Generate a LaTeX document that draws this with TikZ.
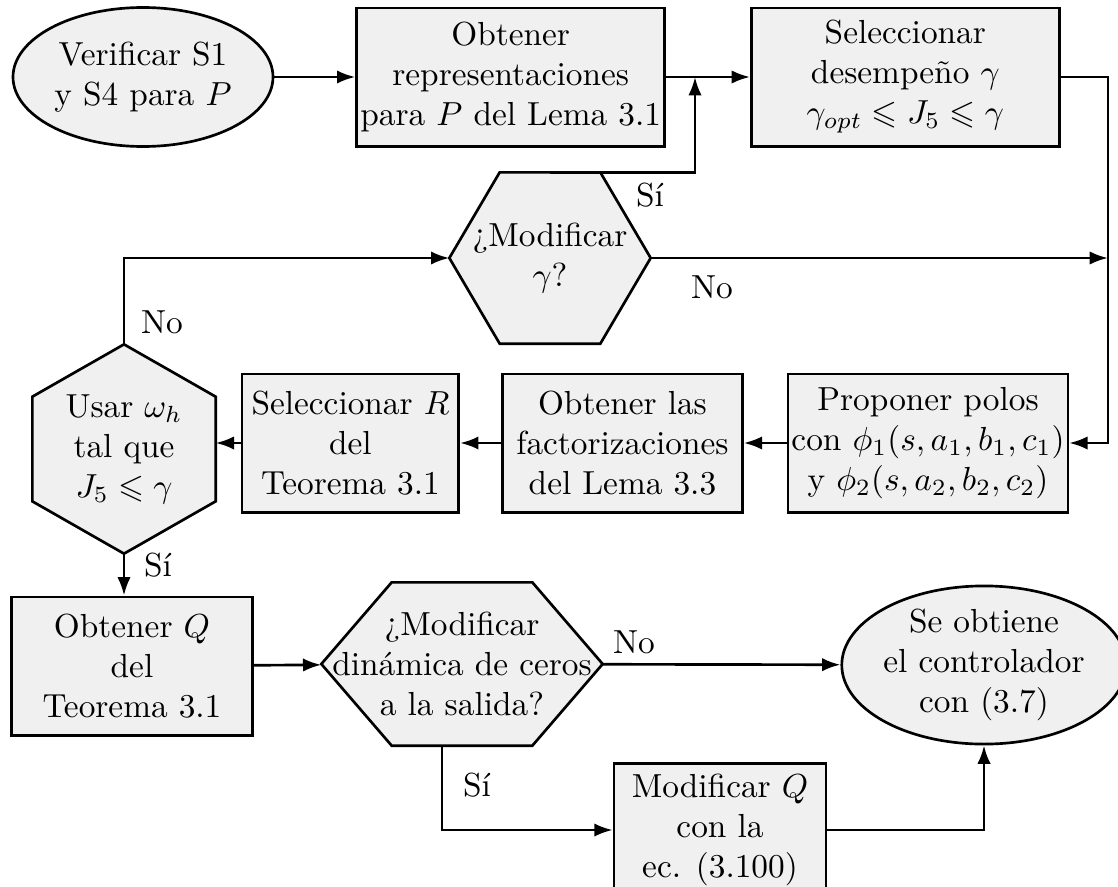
\documentclass[tikz,border=0pt]{standalone}
\usepackage{fontspec}
\usepackage{amsmath,amssymb}
\usepackage{xcolor}
\usetikzlibrary{arrows.meta,positioning,calc,backgrounds}
\usetikzlibrary{shapes.geometric}
\definecolor{relleno}{gray}{0.94}
% flat hexagon (top and bottom sides horizontal) round a node
\newcommand{\hexah}[1]{\draw[forma] (#1.west) -- ($(#1.north west)!0.25!(#1.north east)$) -- ($(#1.north west)!0.75!(#1.north east)$) -- (#1.east) -- ($(#1.south west)!0.75!(#1.south east)$) -- ($(#1.south west)!0.25!(#1.south east)$) -- cycle;}
% standing hexagon (left and right sides vertical)
\newcommand{\hexav}[1]{\draw[forma] (#1.north) -- ($(#1.north east)!0.25!(#1.south east)$) -- ($(#1.north east)!0.75!(#1.south east)$) -- (#1.south) -- ($(#1.north west)!0.75!(#1.south west)$) -- ($(#1.north west)!0.25!(#1.south west)$) -- cycle;}
\tikzset{
  forma/.style={draw, thick, fill=relleno},
  caja/.style={forma, rectangle, align=center, inner sep=1pt, minimum height=41.5pt},
  elipse/.style={forma, ellipse, align=center, inner sep=0pt},
  hexa/.style={rectangle, align=center, inner sep=0pt},
  flecha/.style={thick, -{Latex[length=5.5pt,width=4pt]}},
}

\begin{document}
\begin{tikzpicture}[x=0.3pt, y=-0.3pt]
 \useasboundingbox (0,0) rectangle (1118,886);
% nodes
 \node[elipse, minimum width=78pt, minimum height=41.7pt] (v1) at (143,77) {Verificar S1\\y S4 para $P$};
 \node[caja, minimum width=92.4pt, right=24.3pt of v1] (o1) {Obtener\\representaciones\\para $P$ del Lema 3.1};%
 \node[caja, minimum width=92.4pt, right=25.2pt of o1] (s1) {Seleccionar\\desempe\~no $\gamma$\\$\gamma_{opt}\leqslant J_5\leqslant\gamma$};%
 \node[hexa, minimum width=60pt, minimum height=51pt] (m1) at (550,258) {¿Modificar\\$\gamma$?};%

 \node[caja, minimum width=82.5pt] (p1) at (928,443) {Proponer polos\\con $\phi_1(s,a_1,b_1,c_1)$\\y $\phi_2(s,a_2,b_2,c_2)$};%
 \node[caja, minimum width=72pt, left=12.9pt of p1] (f1) {Obtener las\\factorizaciones\\del Lema 3.3};%
 \node[caja, minimum width=65pt, left=12.3pt of f1] (r1) {Seleccionar $R$\\del\\Teorema 3.1};%
 \node[hexa, minimum width=54.6pt, minimum height=62.4pt] (m2) at (124,449) {Usar $\omega_h$\\tal que\\$J_5\leqslant\gamma$};%

 \node[caja, minimum width=72.3pt] (q1) at (132,666) {Obtener $Q$\\del\\Teorema 3.1};%
 \node[hexa, minimum width=84pt, minimum height=48.6pt] (m3) at (462,664) {¿Modificar\\din\'amica de ceros\\a la salida?};%
 \node[elipse, minimum width=78.3pt, minimum height=43.2pt] (c1) at (984,665) {Se obtiene\\el controlador\\con (3.7)};%
 \node[caja, minimum width=63.6pt, minimum height=40pt] (k1) at (720,830) {Modificar $Q$\\con la\\ec. (3.100)};%

 \begin{scope}[on background layer]
  \hexah{m1}
  \hexav{m2}
  \hexah{m3}
 \end{scope}

 % answers
 \node (si1) at (650,195) {S\'i};
 \node (no1) at (712,287) {No};
 \node (no2) at (162,322) {No};
 \node (si2) at (158,565) {S\'i};
 \node (no3) at (634,642) {No};
 \node (si3) at (477,785) {S\'i};

% edges
 \coordinate (j1) at (695,77);
 \coordinate (j2) at (1108,258);
 \draw[flecha] (v1) -- (o1);
 \draw[flecha] (o1) -- (s1);
 \draw[flecha] (m1.north) -| (j1);
 \draw[flecha] (m1) -- (j2);
 \draw[flecha] (s1) -| (j2) |- (p1);
 \draw[flecha] (p1) -- (f1);
 \draw[flecha] (f1) -- (r1);
 \draw[flecha] (r1) -- (r1 -| m2.east);
 \draw[flecha] (m2) |- (m1);
 \draw[flecha] (m2) -- (m2 |- q1.north);
 \draw[flecha] (q1) -- (m3);
 \draw[flecha] (m3) -- (c1);
 \draw[flecha] ([xshift=-6pt]m3.south) |- (k1);
 \draw[flecha] (k1) -| (c1);
\end{tikzpicture}
\end{document}
